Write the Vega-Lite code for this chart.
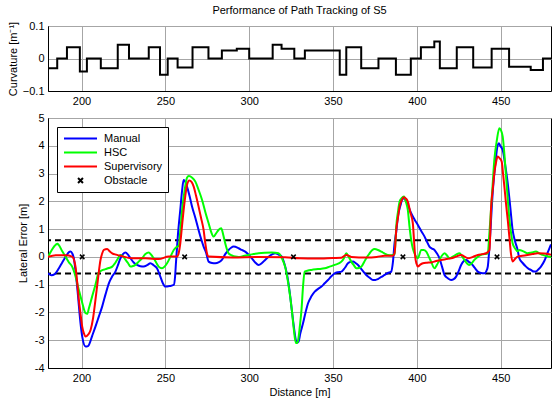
{
  "$schema": "https://vega.github.io/schema/vega-lite/v6.json",
  "background": "white",
  "padding": {"left": 6, "top": 4, "right": 0, "bottom": 0},
  "spacing": 4,
  "resolve": {"scale": {"color": "independent"}, "legend": {"color": "independent"}},
  "config": {
    "font": "Liberation Sans",
    "view": {"stroke": "black", "strokeWidth": 1},
    "axis": {
      "labelFont": "Liberation Sans", "labelFontSize": 11, "labelColor": "black",
      "titleFont": "Liberation Sans", "titleFontSize": 11, "titleFontWeight": "normal", "titleColor": "black",
      "domainColor": "black", "ticks": false, "labelPadding": 4,
      "gridColor": "#a6a6a6", "gridOpacity": 1, "gridWidth": 1
    }
  },
  "datasets": {
    "curv": [
      {"d": 180, "k": -0.03}, {"d": 185.5, "k": 0}, {"d": 191.3, "k": 0.035}, {"d": 199, "k": -0.04},
      {"d": 203.2, "k": 0}, {"d": 211.5, "k": -0.03}, {"d": 221.6, "k": 0.042}, {"d": 228.3, "k": 0},
      {"d": 240.1, "k": 0.035}, {"d": 246.8, "k": -0.05}, {"d": 251.4, "k": 0}, {"d": 257.3, "k": -0.028},
      {"d": 266.2, "k": 0.035}, {"d": 275.7, "k": 0}, {"d": 283.7, "k": 0.025}, {"d": 292.6, "k": 0.03},
      {"d": 300, "k": 0}, {"d": 314, "k": 0.042}, {"d": 319.3, "k": 0.03}, {"d": 326.9, "k": 0},
      {"d": 333.2, "k": 0.025}, {"d": 354, "k": -0.05}, {"d": 357.9, "k": 0.035}, {"d": 366.8, "k": -0.03},
      {"d": 377.1, "k": 0}, {"d": 387.5, "k": -0.05}, {"d": 396.4, "k": 0}, {"d": 402.4, "k": 0.035},
      {"d": 410.4, "k": 0.052}, {"d": 413.7, "k": -0.03}, {"d": 423.8, "k": 0.035}, {"d": 433.6, "k": -0.028},
      {"d": 444.6, "k": 0.03}, {"d": 455, "k": -0.025}, {"d": 467.9, "k": -0.035}, {"d": 475.2, "k": 0},
      {"d": 480, "k": 0}
    ],
    "thr": [{"e": 0.6}, {"e": -0.6}],
    "obs": [
      {"d": 200.4, "e": 0, "s": "Obstacle"}, {"d": 261.5, "e": 0, "s": "Obstacle"}, {"d": 326.4, "e": 0, "s": "Obstacle"},
      {"d": 391.7, "e": 0, "s": "Obstacle"}, {"d": 447.8, "e": 0, "s": "Obstacle"}
    ],
    "err": [
      {"s": "Manual", "d": 180, "e": -0.59}, {"s": "Manual", "d": 182, "e": -0.66}, {"s": "Manual", "d": 184, "e": -0.62},
      {"s": "Manual", "d": 186.5, "e": -0.41}, {"s": "Manual", "d": 188.5, "e": -0.2}, {"s": "Manual", "d": 190.5, "e": 0.0},
      {"s": "Manual", "d": 192.5, "e": 0.17}, {"s": "Manual", "d": 193.5, "e": 0.19}, {"s": "Manual", "d": 194.5, "e": 0.12},
      {"s": "Manual", "d": 195.4, "e": -0.05}, {"s": "Manual", "d": 196.4, "e": -0.5}, {"s": "Manual", "d": 197.4, "e": -1.07},
      {"s": "Manual", "d": 198.4, "e": -1.75}, {"s": "Manual", "d": 199.4, "e": -2.39}, {"s": "Manual", "d": 200.5, "e": -2.9},
      {"s": "Manual", "d": 202.4, "e": -3.23}, {"s": "Manual", "d": 203.5, "e": -3.22}, {"s": "Manual", "d": 204.4, "e": -3.17},
      {"s": "Manual", "d": 206.3, "e": -2.85}, {"s": "Manual", "d": 208.3, "e": -2.51}, {"s": "Manual", "d": 210.3, "e": -2.15},
      {"s": "Manual", "d": 212.3, "e": -1.79}, {"s": "Manual", "d": 214.3, "e": -1.35}, {"s": "Manual", "d": 216.3, "e": -0.95},
      {"s": "Manual", "d": 218.3, "e": -0.7}, {"s": "Manual", "d": 220.2, "e": -0.53}, {"s": "Manual", "d": 221.7, "e": -0.3},
      {"s": "Manual", "d": 223.2, "e": -0.05}, {"s": "Manual", "d": 224.7, "e": 0.1}, {"s": "Manual", "d": 226.2, "e": 0.16},
      {"s": "Manual", "d": 227.7, "e": 0.08}, {"s": "Manual", "d": 229.2, "e": -0.05}, {"s": "Manual", "d": 231.1, "e": -0.2},
      {"s": "Manual", "d": 233.1, "e": -0.29}, {"s": "Manual", "d": 235.1, "e": -0.34}, {"s": "Manual", "d": 237.1, "e": -0.35},
      {"s": "Manual", "d": 239.1, "e": -0.3}, {"s": "Manual", "d": 241.1, "e": -0.23}, {"s": "Manual", "d": 243, "e": -0.3},
      {"s": "Manual", "d": 245, "e": -0.41}, {"s": "Manual", "d": 247, "e": -0.71}, {"s": "Manual", "d": 248.5, "e": -0.95},
      {"s": "Manual", "d": 250, "e": -1.07}, {"s": "Manual", "d": 252.5, "e": -1.05}, {"s": "Manual", "d": 255, "e": -1.01},
      {"s": "Manual", "d": 255.8, "e": -0.7}, {"s": "Manual", "d": 256.3, "e": -0.23}, {"s": "Manual", "d": 257.5, "e": 0.8},
      {"s": "Manual", "d": 258.9, "e": 1.69}, {"s": "Manual", "d": 260, "e": 2.4}, {"s": "Manual", "d": 260.9, "e": 2.77},
      {"s": "Manual", "d": 261.9, "e": 2.7}, {"s": "Manual", "d": 262.9, "e": 2.53}, {"s": "Manual", "d": 264.4, "e": 2.2},
      {"s": "Manual", "d": 265.9, "e": 1.81}, {"s": "Manual", "d": 267.9, "e": 1.4}, {"s": "Manual", "d": 269.8, "e": 0.97},
      {"s": "Manual", "d": 271.3, "e": 0.65}, {"s": "Manual", "d": 272.8, "e": 0.37}, {"s": "Manual", "d": 274.3, "e": 0.15},
      {"s": "Manual", "d": 275.8, "e": -0.17}, {"s": "Manual", "d": 277.8, "e": -0.22}, {"s": "Manual", "d": 279.8, "e": -0.23},
      {"s": "Manual", "d": 281.7, "e": -0.2}, {"s": "Manual", "d": 283.7, "e": -0.11}, {"s": "Manual", "d": 285.7, "e": 0.1},
      {"s": "Manual", "d": 287.7, "e": 0.25}, {"s": "Manual", "d": 289.2, "e": 0.33}, {"s": "Manual", "d": 290.7, "e": 0.37},
      {"s": "Manual", "d": 293.7, "e": 0.31}, {"s": "Manual", "d": 295.6, "e": 0.25}, {"s": "Manual", "d": 297.6, "e": 0.19},
      {"s": "Manual", "d": 299.6, "e": 0.08}, {"s": "Manual", "d": 301.6, "e": -0.05}, {"s": "Manual", "d": 303.6, "e": -0.2},
      {"s": "Manual", "d": 305.6, "e": -0.29}, {"s": "Manual", "d": 307.6, "e": -0.22}, {"s": "Manual", "d": 309.5, "e": -0.11},
      {"s": "Manual", "d": 312.5, "e": 0.05}, {"s": "Manual", "d": 315.5, "e": 0.13}, {"s": "Manual", "d": 317.5, "e": 0.08},
      {"s": "Manual", "d": 319.4, "e": 0.01}, {"s": "Manual", "d": 321, "e": -0.25}, {"s": "Manual", "d": 322.4, "e": -0.59},
      {"s": "Manual", "d": 324, "e": -1.2}, {"s": "Manual", "d": 325.4, "e": -1.91}, {"s": "Manual", "d": 326.6, "e": -2.5},
      {"s": "Manual", "d": 327.8, "e": -2.99}, {"s": "Manual", "d": 328.6, "e": -3.08}, {"s": "Manual", "d": 329.4, "e": -3.05},
      {"s": "Manual", "d": 330.5, "e": -2.75}, {"s": "Manual", "d": 332.1, "e": -2.39}, {"s": "Manual", "d": 333.6, "e": -2.0},
      {"s": "Manual", "d": 335.1, "e": -1.67}, {"s": "Manual", "d": 337.1, "e": -1.42}, {"s": "Manual", "d": 339.1, "e": -1.25},
      {"s": "Manual", "d": 341.1, "e": -1.15}, {"s": "Manual", "d": 343.1, "e": -1.07}, {"s": "Manual", "d": 345, "e": -0.95},
      {"s": "Manual", "d": 347, "e": -0.83}, {"s": "Manual", "d": 349, "e": -0.7}, {"s": "Manual", "d": 351, "e": -0.59},
      {"s": "Manual", "d": 353, "e": -0.55}, {"s": "Manual", "d": 355, "e": -0.53}, {"s": "Manual", "d": 357, "e": -0.4},
      {"s": "Manual", "d": 358.9, "e": -0.23}, {"s": "Manual", "d": 360.4, "e": -0.18}, {"s": "Manual", "d": 361.9, "e": -0.17},
      {"s": "Manual", "d": 363.4, "e": -0.22}, {"s": "Manual", "d": 364.9, "e": -0.29}, {"s": "Manual", "d": 367.4, "e": -0.48},
      {"s": "Manual", "d": 369.8, "e": -0.65}, {"s": "Manual", "d": 371.8, "e": -0.75}, {"s": "Manual", "d": 373.8, "e": -0.83},
      {"s": "Manual", "d": 375.3, "e": -0.83}, {"s": "Manual", "d": 376.8, "e": -0.8}, {"s": "Manual", "d": 378.8, "e": -0.72},
      {"s": "Manual", "d": 380.8, "e": -0.65}, {"s": "Manual", "d": 382.7, "e": -0.58}, {"s": "Manual", "d": 384.7, "e": -0.53},
      {"s": "Manual", "d": 385.7, "e": -0.2}, {"s": "Manual", "d": 386.7, "e": 0.5}, {"s": "Manual", "d": 387.7, "e": 0.9},
      {"s": "Manual", "d": 388.7, "e": 1.45}, {"s": "Manual", "d": 390.2, "e": 1.85}, {"s": "Manual", "d": 391.7, "e": 2.11},
      {"s": "Manual", "d": 392.7, "e": 2.08}, {"s": "Manual", "d": 393.7, "e": 1.99}, {"s": "Manual", "d": 395.2, "e": 1.78},
      {"s": "Manual", "d": 396.6, "e": 1.57}, {"s": "Manual", "d": 398.6, "e": 1.35}, {"s": "Manual", "d": 400.6, "e": 1.15},
      {"s": "Manual", "d": 402.6, "e": 0.93}, {"s": "Manual", "d": 404.6, "e": 0.73}, {"s": "Manual", "d": 406, "e": 0.55},
      {"s": "Manual", "d": 407.5, "e": 0.37}, {"s": "Manual", "d": 409, "e": 0.3}, {"s": "Manual", "d": 410.5, "e": 0.25},
      {"s": "Manual", "d": 412, "e": 0.12}, {"s": "Manual", "d": 413.5, "e": -0.05}, {"s": "Manual", "d": 415, "e": -0.35},
      {"s": "Manual", "d": 416.5, "e": -0.65}, {"s": "Manual", "d": 418.5, "e": -0.77}, {"s": "Manual", "d": 420.4, "e": -0.83},
      {"s": "Manual", "d": 422, "e": -0.8}, {"s": "Manual", "d": 423.4, "e": -0.71}, {"s": "Manual", "d": 425, "e": -0.5},
      {"s": "Manual", "d": 426.4, "e": -0.29}, {"s": "Manual", "d": 428, "e": -0.15}, {"s": "Manual", "d": 429.4, "e": -0.11},
      {"s": "Manual", "d": 431, "e": -0.18}, {"s": "Manual", "d": 432.3, "e": -0.23}, {"s": "Manual", "d": 434.3, "e": -0.38},
      {"s": "Manual", "d": 436.3, "e": -0.53}, {"s": "Manual", "d": 438.3, "e": -0.58}, {"s": "Manual", "d": 440.3, "e": -0.59},
      {"s": "Manual", "d": 441.5, "e": -0.5}, {"s": "Manual", "d": 442.3, "e": -0.35}, {"s": "Manual", "d": 443.1, "e": 0.2},
      {"s": "Manual", "d": 443.8, "e": 0.85}, {"s": "Manual", "d": 444.5, "e": 1.6}, {"s": "Manual", "d": 445.2, "e": 2.29},
      {"s": "Manual", "d": 446.7, "e": 3.3}, {"s": "Manual", "d": 448.2, "e": 4.02}, {"s": "Manual", "d": 448.9, "e": 4.09},
      {"s": "Manual", "d": 449.7, "e": 4.0}, {"s": "Manual", "d": 451.2, "e": 3.85}, {"s": "Manual", "d": 452.7, "e": 3.3},
      {"s": "Manual", "d": 454.2, "e": 2.65}, {"s": "Manual", "d": 455.7, "e": 1.8}, {"s": "Manual", "d": 457.1, "e": 0.97},
      {"s": "Manual", "d": 458.6, "e": 0.55}, {"s": "Manual", "d": 460.1, "e": 0.25}, {"s": "Manual", "d": 461.1, "e": -0.05},
      {"s": "Manual", "d": 463.1, "e": -0.22}, {"s": "Manual", "d": 465.1, "e": -0.35}, {"s": "Manual", "d": 466.5, "e": -0.42},
      {"s": "Manual", "d": 468, "e": -0.47}, {"s": "Manual", "d": 469.8, "e": -0.53}, {"s": "Manual", "d": 471, "e": -0.53},
      {"s": "Manual", "d": 472.5, "e": -0.45}, {"s": "Manual", "d": 474, "e": -0.35}, {"s": "Manual", "d": 476, "e": -0.15},
      {"s": "Manual", "d": 478, "e": 0.15}, {"s": "Manual", "d": 480, "e": 0.45},

      {"s": "HSC", "d": 180, "e": 0.0}, {"s": "HSC", "d": 182, "e": 0.22}, {"s": "HSC", "d": 184, "e": 0.4},
      {"s": "HSC", "d": 185.6, "e": 0.47}, {"s": "HSC", "d": 186.5, "e": 0.42}, {"s": "HSC", "d": 188.5, "e": 0.2},
      {"s": "HSC", "d": 190.5, "e": 0.0}, {"s": "HSC", "d": 192.5, "e": -0.2}, {"s": "HSC", "d": 194.4, "e": -0.35},
      {"s": "HSC", "d": 196.4, "e": -0.7}, {"s": "HSC", "d": 198.4, "e": -1.19}, {"s": "HSC", "d": 200.4, "e": -1.65},
      {"s": "HSC", "d": 202.4, "e": -2.03}, {"s": "HSC", "d": 203.4, "e": -2.05}, {"s": "HSC", "d": 204.4, "e": -1.85},
      {"s": "HSC", "d": 206.3, "e": -1.43}, {"s": "HSC", "d": 208.3, "e": -1.0}, {"s": "HSC", "d": 210.3, "e": -0.56},
      {"s": "HSC", "d": 212.3, "e": -0.48}, {"s": "HSC", "d": 214.3, "e": -0.44}, {"s": "HSC", "d": 216.3, "e": -0.4},
      {"s": "HSC", "d": 218.3, "e": -0.35}, {"s": "HSC", "d": 219.7, "e": -0.25}, {"s": "HSC", "d": 221.2, "e": -0.11},
      {"s": "HSC", "d": 223.2, "e": 0.07}, {"s": "HSC", "d": 224.7, "e": 0.02}, {"s": "HSC", "d": 226.2, "e": -0.1},
      {"s": "HSC", "d": 227.7, "e": -0.22}, {"s": "HSC", "d": 229.2, "e": -0.35}, {"s": "HSC", "d": 230.7, "e": -0.33},
      {"s": "HSC", "d": 232.1, "e": -0.29}, {"s": "HSC", "d": 234.1, "e": -0.17}, {"s": "HSC", "d": 236.1, "e": -0.05},
      {"s": "HSC", "d": 238.1, "e": 0.1}, {"s": "HSC", "d": 240.1, "e": 0.16}, {"s": "HSC", "d": 241.5, "e": 0.08},
      {"s": "HSC", "d": 243, "e": -0.05}, {"s": "HSC", "d": 244.5, "e": -0.2}, {"s": "HSC", "d": 246, "e": -0.35},
      {"s": "HSC", "d": 248, "e": -0.41}, {"s": "HSC", "d": 249.5, "e": -0.35}, {"s": "HSC", "d": 251, "e": -0.23},
      {"s": "HSC", "d": 253, "e": 0.0}, {"s": "HSC", "d": 255, "e": 0.25}, {"s": "HSC", "d": 256.5, "e": 0.35},
      {"s": "HSC", "d": 258, "e": 0.4}, {"s": "HSC", "d": 259, "e": 1.0}, {"s": "HSC", "d": 260, "e": 1.69},
      {"s": "HSC", "d": 261.5, "e": 2.4}, {"s": "HSC", "d": 262.9, "e": 2.85}, {"s": "HSC", "d": 264, "e": 2.91},
      {"s": "HSC", "d": 266, "e": 2.85}, {"s": "HSC", "d": 267.9, "e": 2.71}, {"s": "HSC", "d": 269.9, "e": 2.4},
      {"s": "HSC", "d": 271.9, "e": 2.05}, {"s": "HSC", "d": 273.9, "e": 1.6}, {"s": "HSC", "d": 275.8, "e": 1.21},
      {"s": "HSC", "d": 277.3, "e": 0.9}, {"s": "HSC", "d": 278.8, "e": 0.73}, {"s": "HSC", "d": 280.3, "e": 0.85},
      {"s": "HSC", "d": 281.7, "e": 0.97}, {"s": "HSC", "d": 283.3, "e": 1.03}, {"s": "HSC", "d": 284.5, "e": 0.8},
      {"s": "HSC", "d": 285.7, "e": 0.49}, {"s": "HSC", "d": 287.7, "e": 0.13}, {"s": "HSC", "d": 289.7, "e": 0.05},
      {"s": "HSC", "d": 291.7, "e": 0.01}, {"s": "HSC", "d": 293.7, "e": 0.0}, {"s": "HSC", "d": 296.6, "e": 0.03},
      {"s": "HSC", "d": 299.6, "e": 0.07}, {"s": "HSC", "d": 302.6, "e": 0.1}, {"s": "HSC", "d": 305.6, "e": 0.13},
      {"s": "HSC", "d": 309.5, "e": 0.15}, {"s": "HSC", "d": 313.5, "e": 0.16}, {"s": "HSC", "d": 317.5, "e": 0.13},
      {"s": "HSC", "d": 319.5, "e": -0.05}, {"s": "HSC", "d": 321.4, "e": -0.35}, {"s": "HSC", "d": 323.4, "e": -1.0},
      {"s": "HSC", "d": 325.4, "e": -1.9}, {"s": "HSC", "d": 326.6, "e": -2.6}, {"s": "HSC", "d": 327.8, "e": -3.1},
      {"s": "HSC", "d": 328.5, "e": -3.1}, {"s": "HSC", "d": 329.2, "e": -2.99}, {"s": "HSC", "d": 330.2, "e": -2.5},
      {"s": "HSC", "d": 331.2, "e": -1.9}, {"s": "HSC", "d": 332.1, "e": -1.07}, {"s": "HSC", "d": 333.1, "e": -0.53},
      {"s": "HSC", "d": 335.1, "e": -0.49}, {"s": "HSC", "d": 337.1, "e": -0.47}, {"s": "HSC", "d": 341, "e": -0.44},
      {"s": "HSC", "d": 345, "e": -0.41}, {"s": "HSC", "d": 348, "e": -0.35}, {"s": "HSC", "d": 351, "e": -0.29},
      {"s": "HSC", "d": 355, "e": -0.17}, {"s": "HSC", "d": 356.5, "e": -0.05}, {"s": "HSC", "d": 357.9, "e": 0.13},
      {"s": "HSC", "d": 359.4, "e": 0.0}, {"s": "HSC", "d": 360.9, "e": -0.17}, {"s": "HSC", "d": 362.4, "e": -0.3},
      {"s": "HSC", "d": 363.9, "e": -0.41}, {"s": "HSC", "d": 365.4, "e": -0.4}, {"s": "HSC", "d": 366.9, "e": -0.35},
      {"s": "HSC", "d": 369.3, "e": -0.1}, {"s": "HSC", "d": 371.8, "e": 0.13}, {"s": "HSC", "d": 373.3, "e": 0.24},
      {"s": "HSC", "d": 374.8, "e": 0.28}, {"s": "HSC", "d": 376.8, "e": 0.25}, {"s": "HSC", "d": 378.8, "e": 0.19},
      {"s": "HSC", "d": 380.8, "e": 0.12}, {"s": "HSC", "d": 382.7, "e": 0.07}, {"s": "HSC", "d": 384.7, "e": 0.06},
      {"s": "HSC", "d": 386.7, "e": 0.1}, {"s": "HSC", "d": 387.2, "e": 0.5}, {"s": "HSC", "d": 387.7, "e": 1.09},
      {"s": "HSC", "d": 388.7, "e": 1.6}, {"s": "HSC", "d": 389.7, "e": 1.99}, {"s": "HSC", "d": 391, "e": 2.12},
      {"s": "HSC", "d": 392.3, "e": 2.17}, {"s": "HSC", "d": 393.5, "e": 1.98}, {"s": "HSC", "d": 394.6, "e": 1.69},
      {"s": "HSC", "d": 395.6, "e": 1.1}, {"s": "HSC", "d": 396.6, "e": 0.61}, {"s": "HSC", "d": 397.6, "e": 0.3},
      {"s": "HSC", "d": 398.6, "e": 0.13}, {"s": "HSC", "d": 400.6, "e": -0.05}, {"s": "HSC", "d": 402.6, "e": 0.25},
      {"s": "HSC", "d": 404, "e": 0.25}, {"s": "HSC", "d": 405.6, "e": 0.19}, {"s": "HSC", "d": 407, "e": 0.02},
      {"s": "HSC", "d": 408.5, "e": -0.17}, {"s": "HSC", "d": 410.5, "e": -0.41}, {"s": "HSC", "d": 412, "e": -0.28},
      {"s": "HSC", "d": 413.5, "e": -0.11}, {"s": "HSC", "d": 415, "e": 0.05}, {"s": "HSC", "d": 416.5, "e": 0.13},
      {"s": "HSC", "d": 418, "e": 0.05}, {"s": "HSC", "d": 419.4, "e": -0.05}, {"s": "HSC", "d": 421.4, "e": 0.01},
      {"s": "HSC", "d": 423.4, "e": 0.08}, {"s": "HSC", "d": 425.4, "e": 0.13}, {"s": "HSC", "d": 427, "e": 0.02},
      {"s": "HSC", "d": 428.4, "e": -0.11}, {"s": "HSC", "d": 431.3, "e": -0.29}, {"s": "HSC", "d": 432.8, "e": -0.22},
      {"s": "HSC", "d": 434.3, "e": -0.11}, {"s": "HSC", "d": 436.3, "e": 0.0}, {"s": "HSC", "d": 438.3, "e": 0.07},
      {"s": "HSC", "d": 440.3, "e": 0.1}, {"s": "HSC", "d": 442.3, "e": 0.13}, {"s": "HSC", "d": 443.2, "e": 0.8},
      {"s": "HSC", "d": 444.2, "e": 1.69}, {"s": "HSC", "d": 445.2, "e": 2.6}, {"s": "HSC", "d": 446.2, "e": 3.49},
      {"s": "HSC", "d": 447.7, "e": 4.2}, {"s": "HSC", "d": 449.2, "e": 4.63}, {"s": "HSC", "d": 450.2, "e": 4.55},
      {"s": "HSC", "d": 451.2, "e": 4.33}, {"s": "HSC", "d": 452.2, "e": 3.7}, {"s": "HSC", "d": 453.2, "e": 2.89},
      {"s": "HSC", "d": 454.2, "e": 2.1}, {"s": "HSC", "d": 455.2, "e": 1.33}, {"s": "HSC", "d": 456.2, "e": 0.85},
      {"s": "HSC", "d": 457.1, "e": 0.49}, {"s": "HSC", "d": 458.6, "e": 0.3}, {"s": "HSC", "d": 460.1, "e": 0.2},
      {"s": "HSC", "d": 461.1, "e": 0.25}, {"s": "HSC", "d": 463.5, "e": 0.2}, {"s": "HSC", "d": 466, "e": 0.13},
      {"s": "HSC", "d": 468.5, "e": 0.16}, {"s": "HSC", "d": 471, "e": 0.19}, {"s": "HSC", "d": 473, "e": 0.13},
      {"s": "HSC", "d": 475, "e": 0.07}, {"s": "HSC", "d": 477, "e": 0.03}, {"s": "HSC", "d": 480, "e": 0.0},

      {"s": "Supervisory", "d": 180, "e": 0.0}, {"s": "Supervisory", "d": 184.6, "e": 0.06}, {"s": "Supervisory", "d": 190.5, "e": 0.06},
      {"s": "Supervisory", "d": 194.4, "e": 0.01}, {"s": "Supervisory", "d": 195.5, "e": -0.1}, {"s": "Supervisory", "d": 196.4, "e": -0.35},
      {"s": "Supervisory", "d": 197.4, "e": -0.9}, {"s": "Supervisory", "d": 198.4, "e": -1.55}, {"s": "Supervisory", "d": 199.4, "e": -2.05},
      {"s": "Supervisory", "d": 200.4, "e": -2.51}, {"s": "Supervisory", "d": 201.4, "e": -2.75}, {"s": "Supervisory", "d": 202.4, "e": -2.87},
      {"s": "Supervisory", "d": 203.9, "e": -2.8}, {"s": "Supervisory", "d": 205.4, "e": -2.63}, {"s": "Supervisory", "d": 206.9, "e": -2.2},
      {"s": "Supervisory", "d": 208.3, "e": -1.55}, {"s": "Supervisory", "d": 209.8, "e": -0.8}, {"s": "Supervisory", "d": 211.3, "e": -0.11},
      {"s": "Supervisory", "d": 212.3, "e": 0.12}, {"s": "Supervisory", "d": 213.3, "e": 0.25}, {"s": "Supervisory", "d": 215.3, "e": 0.28},
      {"s": "Supervisory", "d": 216.8, "e": 0.2}, {"s": "Supervisory", "d": 218.3, "e": 0.13}, {"s": "Supervisory", "d": 220.7, "e": 0.08},
      {"s": "Supervisory", "d": 223.2, "e": 0.04}, {"s": "Supervisory", "d": 230.2, "e": -0.05}, {"s": "Supervisory", "d": 238.1, "e": -0.05},
      {"s": "Supervisory", "d": 246, "e": -0.08}, {"s": "Supervisory", "d": 252, "e": 0.01}, {"s": "Supervisory", "d": 256.9, "e": 0.01},
      {"s": "Supervisory", "d": 258, "e": 0.15}, {"s": "Supervisory", "d": 258.9, "e": 0.49}, {"s": "Supervisory", "d": 259.9, "e": 1.1},
      {"s": "Supervisory", "d": 260.9, "e": 1.69}, {"s": "Supervisory", "d": 261.9, "e": 2.2}, {"s": "Supervisory", "d": 262.9, "e": 2.59},
      {"s": "Supervisory", "d": 264.3, "e": 2.75}, {"s": "Supervisory", "d": 265.6, "e": 2.7}, {"s": "Supervisory", "d": 266.9, "e": 2.53},
      {"s": "Supervisory", "d": 268.3, "e": 2.2}, {"s": "Supervisory", "d": 269.8, "e": 1.81}, {"s": "Supervisory", "d": 271.3, "e": 1.4},
      {"s": "Supervisory", "d": 272.8, "e": 0.97}, {"s": "Supervisory", "d": 273.8, "e": 0.5}, {"s": "Supervisory", "d": 274.8, "e": 0.13},
      {"s": "Supervisory", "d": 275.8, "e": 0.01}, {"s": "Supervisory", "d": 290, "e": -0.02}, {"s": "Supervisory", "d": 305, "e": 0.0},
      {"s": "Supervisory", "d": 321.4, "e": -0.01}, {"s": "Supervisory", "d": 330, "e": -0.05}, {"s": "Supervisory", "d": 340, "e": -0.06},
      {"s": "Supervisory", "d": 350, "e": -0.04}, {"s": "Supervisory", "d": 355, "e": -0.03}, {"s": "Supervisory", "d": 357.9, "e": 0.07},
      {"s": "Supervisory", "d": 360.9, "e": 0.0}, {"s": "Supervisory", "d": 370, "e": -0.02}, {"s": "Supervisory", "d": 376, "e": 0.0},
      {"s": "Supervisory", "d": 380.8, "e": 0.04}, {"s": "Supervisory", "d": 385.7, "e": 0.04}, {"s": "Supervisory", "d": 386.7, "e": 0.13},
      {"s": "Supervisory", "d": 387.2, "e": 0.5}, {"s": "Supervisory", "d": 387.7, "e": 0.97}, {"s": "Supervisory", "d": 388.7, "e": 1.4},
      {"s": "Supervisory", "d": 389.7, "e": 1.81}, {"s": "Supervisory", "d": 391, "e": 2.05}, {"s": "Supervisory", "d": 392.3, "e": 2.15},
      {"s": "Supervisory", "d": 393.5, "e": 2.1}, {"s": "Supervisory", "d": 394.6, "e": 1.99}, {"s": "Supervisory", "d": 396.1, "e": 1.6},
      {"s": "Supervisory", "d": 397.6, "e": 1.21}, {"s": "Supervisory", "d": 398.3, "e": 0.6}, {"s": "Supervisory", "d": 399, "e": 0.01},
      {"s": "Supervisory", "d": 399.8, "e": -0.25}, {"s": "Supervisory", "d": 400.6, "e": -0.35}, {"s": "Supervisory", "d": 402, "e": -0.28},
      {"s": "Supervisory", "d": 403.6, "e": -0.23}, {"s": "Supervisory", "d": 406, "e": -0.21}, {"s": "Supervisory", "d": 408.5, "e": -0.2},
      {"s": "Supervisory", "d": 411.5, "e": -0.15}, {"s": "Supervisory", "d": 414.5, "e": -0.11}, {"s": "Supervisory", "d": 417.5, "e": -0.08},
      {"s": "Supervisory", "d": 420.4, "e": -0.05}, {"s": "Supervisory", "d": 423.4, "e": 0.01}, {"s": "Supervisory", "d": 426.4, "e": 0.07},
      {"s": "Supervisory", "d": 428.4, "e": 0.01}, {"s": "Supervisory", "d": 430.4, "e": -0.05}, {"s": "Supervisory", "d": 433.4, "e": 0.0},
      {"s": "Supervisory", "d": 436.3, "e": 0.07}, {"s": "Supervisory", "d": 439, "e": 0.1}, {"s": "Supervisory", "d": 441.3, "e": 0.13},
      {"s": "Supervisory", "d": 443.3, "e": 0.25}, {"s": "Supervisory", "d": 443.8, "e": 0.9}, {"s": "Supervisory", "d": 444.2, "e": 1.69},
      {"s": "Supervisory", "d": 445.2, "e": 2.4}, {"s": "Supervisory", "d": 446.2, "e": 3.01}, {"s": "Supervisory", "d": 447.2, "e": 3.4},
      {"s": "Supervisory", "d": 448.2, "e": 3.61}, {"s": "Supervisory", "d": 449.4, "e": 3.55}, {"s": "Supervisory", "d": 450.6, "e": 3.43},
      {"s": "Supervisory", "d": 451.4, "e": 3.0}, {"s": "Supervisory", "d": 452.2, "e": 2.53}, {"s": "Supervisory", "d": 453.2, "e": 1.9},
      {"s": "Supervisory", "d": 454.2, "e": 1.33}, {"s": "Supervisory", "d": 455.2, "e": 0.7}, {"s": "Supervisory", "d": 456.1, "e": 0.13},
      {"s": "Supervisory", "d": 457.1, "e": -0.17}, {"s": "Supervisory", "d": 458.6, "e": -0.07}, {"s": "Supervisory", "d": 460.1, "e": 0.01},
      {"s": "Supervisory", "d": 463, "e": 0.04}, {"s": "Supervisory", "d": 466, "e": 0.07}, {"s": "Supervisory", "d": 469, "e": 0.1},
      {"s": "Supervisory", "d": 472, "e": 0.13}, {"s": "Supervisory", "d": 476, "e": 0.12}, {"s": "Supervisory", "d": 480, "e": 0.08}
    ]
  },
  "vconcat": [
    {
      "width": 503,
      "height": 65,
      "title": {"text": "Performance of Path Tracking of S5", "fontSize": 11, "fontWeight": "normal", "font": "Liberation Sans", "color": "black", "offset": 4, "anchor": "middle", "frame": "group"},
      "data": {"name": "curv"},
      "mark": {"type": "line", "interpolate": "step-after", "color": "black", "strokeWidth": 2, "clip": true},
      "encoding": {
        "x": {"field": "d", "type": "quantitative", "scale": {"domain": [180, 480], "nice": false, "zero": false},
              "axis": {"title": null, "values": [200, 250, 300, 350, 400, 450], "grid": true}},
        "y": {"field": "k", "type": "quantitative", "scale": {"domain": [-0.1, 0.1], "nice": false},
              "axis": {"title": "Curvature [m⁻¹]", "values": [-0.1, 0, 0.1], "format": ".1~f", "grid": true, "titlePadding": 4, "labelFlush": false, "labelOverlap": true}}
      }
    },
    {
      "width": 503,
      "height": 250,
      "encoding": {
        "y": {"field": "e", "type": "quantitative", "scale": {"domain": [-4, 5], "nice": false},
              "axis": {"title": "Lateral Error [m]", "values": [-4, -3, -2, -1, 0, 1, 2, 3, 4, 5], "labelExpr": "toString(datum.value)", "grid": true, "titlePadding": 6, "labelFlush": false, "labelOverlap": false}}
      },
      "layer": [
        {
          "data": {"name": "thr"},
          "mark": {"type": "rule", "color": "black", "strokeWidth": 2, "strokeDash": [6, 4]}
        },
        {
          "data": {"name": "err"},
          "mark": {"type": "line", "strokeWidth": 2, "clip": true, "interpolate": "monotone"},
          "encoding": {
            "x": {"field": "d", "type": "quantitative", "scale": {"domain": [180, 480], "nice": false, "zero": false},
                  "axis": {"title": "Distance [m]", "values": [200, 250, 300, 350, 400, 450], "grid": true, "titlePadding": 3}},
            "color": {
              "field": "s", "type": "nominal",
              "scale": {"domain": ["Manual", "HSC", "Supervisory", "Obstacle"], "range": ["#0000ff", "#00ff00", "#ff0000", "#000000"]},
              "legend": {
                "orient": "none", "legendX": 9, "legendY": 9, "title": null,
                "fillColor": "white", "strokeColor": "black", "padding": 5,
                "symbolType": "M-3,0L3,0", "symbolSize": 121, "symbolStrokeWidth": 2, "symbolOffset": 12,
                "labelFontSize": 11, "labelFont": "Liberation Sans", "labelColor": "black", "labelOffset": 17, "rowPadding": 2,
                "encode": {"symbols": {"update": {"shape": {"signal": "datum.value === 'Obstacle' ? 'M-0.45,-0.45L0.45,0.45M-0.45,0.45L0.45,-0.45' : 'M-3,0L3,0'"}}}}
              }
            },
            "detail": {"field": "s"}
          }
        },
        {
          "data": {"name": "obs"},
          "mark": {"type": "point", "shape": "M-1,-1L1,1M-1,1L1,-1", "size": 20, "filled": false, "strokeWidth": 1.5, "opacity": 1},
          "encoding": {
            "x": {"field": "d", "type": "quantitative"},
            "color": {"field": "s", "type": "nominal"}
          }
        }
      ]
    }
  ]
}
